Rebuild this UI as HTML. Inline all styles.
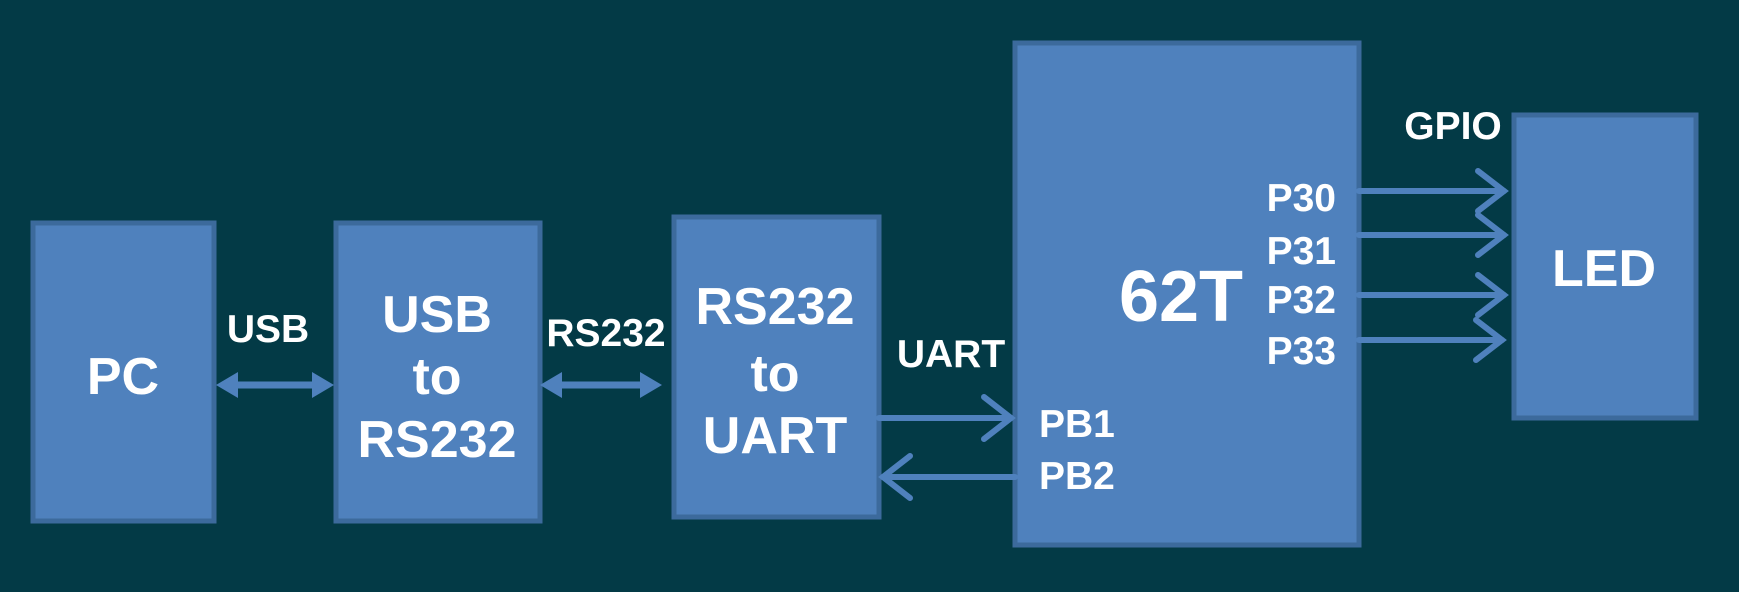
<!DOCTYPE html>
<html><head><meta charset="utf-8"><style>
html,body{margin:0;padding:0;background:#033a46;}
svg{display:block}
text{font-family:"Liberation Sans",Arial,sans-serif;font-weight:bold;fill:#fff;}
</style></head><body>
<svg width="1739" height="592" viewBox="0 0 1739 592" xmlns="http://www.w3.org/2000/svg">
<rect width="1739" height="592" fill="#033a46"/>
<g fill="#4f81bd" stroke="#3c6a9c" stroke-width="5">
<rect x="33" y="223" width="181" height="298"/>
<rect x="336" y="223" width="204" height="298"/>
<rect x="674" y="217" width="205" height="300"/>
<rect x="1015" y="43" width="344" height="502"/>
<rect x="1514" y="115" width="182" height="303"/>
</g>
<g fill="#4f81bd" stroke="#4f81bd">
<!-- USB double arrow -->
<line x1="228" y1="385" x2="322" y2="385" stroke-width="7"/>
<polygon points="216,385 238,372 238,398" stroke="none"/>
<polygon points="334,385 312,372 312,398" stroke="none"/>
<!-- RS232 double arrow -->
<line x1="552" y1="385" x2="651" y2="385" stroke-width="7"/>
<polygon points="540,385 562,372 562,398" stroke="none"/>
<polygon points="662,385 640,372 640,398" stroke="none"/>
</g>
<g fill="none" stroke="#4f81bd" stroke-width="6" stroke-linecap="round">
<line x1="879" y1="418" x2="1011" y2="418"/>
<polyline points="984,397 1011,418 984,439"/>
<line x1="1015" y1="477" x2="883" y2="477"/>
<polyline points="910,456 883,477 910,498"/>
<line x1="1359" y1="191" x2="1504" y2="191"/><polyline points="1478,171 1504,191 1478,211"/>
<line x1="1359" y1="235" x2="1504" y2="235"/><polyline points="1478,215 1504,235 1478,255"/>
<line x1="1359" y1="295" x2="1504" y2="295"/><polyline points="1478,275 1504,295 1478,315"/>
<line x1="1359" y1="340" x2="1502" y2="340"/><polyline points="1476,320 1502,340 1476,360"/>
</g>
<g text-anchor="middle" font-size="52">
<text x="123" y="394">PC</text>
<text x="437" y="332">USB</text>
<text x="437" y="394">to</text>
<text x="437" y="457">RS232</text>
<text x="775" y="324">RS232</text>
<text x="775" y="391">to</text>
<text x="775" y="453">UART</text>
<text x="1604" y="286">LED</text>
<text x="1181" y="321" font-size="72">62T</text>
</g>
<g font-size="39">
<text x="268" y="342" text-anchor="middle">USB</text>
<text x="606" y="346" text-anchor="middle">RS232</text>
<text x="951" y="367" text-anchor="middle">UART</text>
<text x="1453" y="139" text-anchor="middle">GPIO</text>
<text x="1336" y="211" text-anchor="end">P30</text>
<text x="1336" y="264" text-anchor="end">P31</text>
<text x="1336" y="313" text-anchor="end">P32</text>
<text x="1336" y="364" text-anchor="end">P33</text>
<text x="1039" y="437">PB1</text>
<text x="1039" y="489">PB2</text>
</g>
</svg>
</body></html>
